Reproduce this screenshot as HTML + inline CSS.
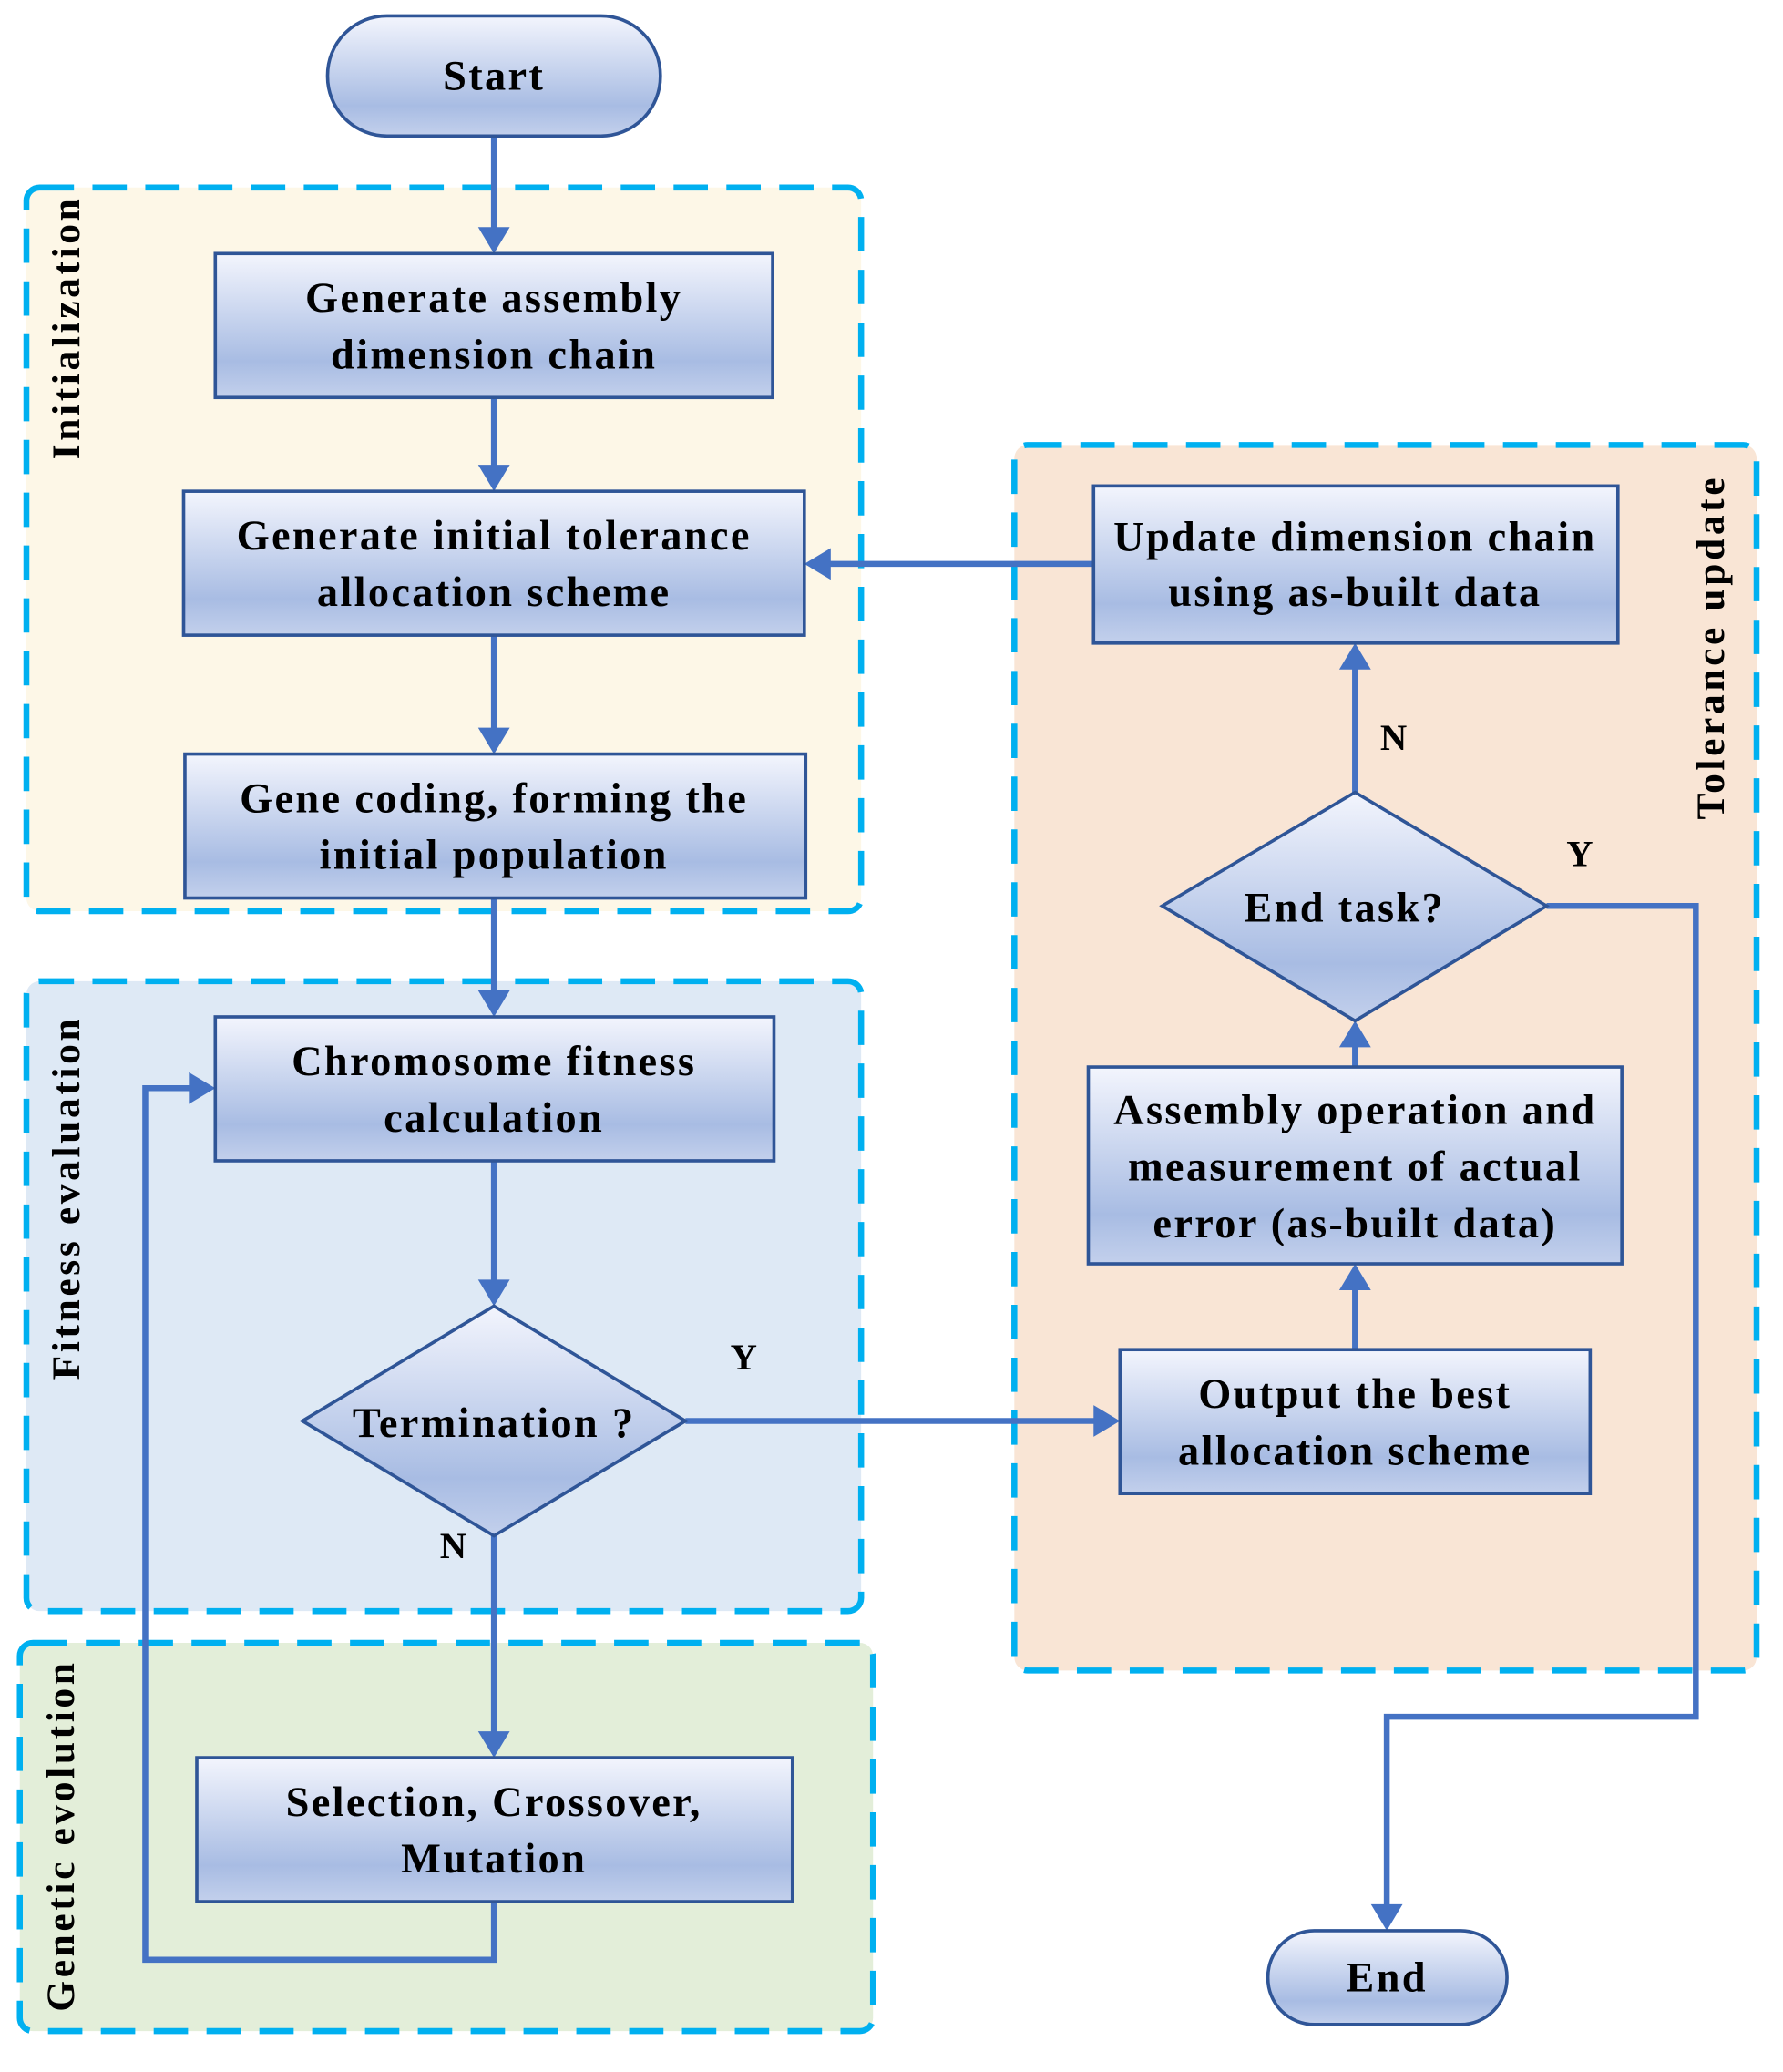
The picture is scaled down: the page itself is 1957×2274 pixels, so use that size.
<!DOCTYPE html>
<html><head><meta charset="utf-8"><style>
html,body{margin:0;padding:0;background:#fff;}
svg{display:block;}
text{font-family:"Liberation Serif",serif;font-weight:bold;fill:#000;}
</style></head><body>
<svg width="1957" height="2274" viewBox="0 0 1350 1569" preserveAspectRatio="none" xmlns="http://www.w3.org/2000/svg">
<defs>
<linearGradient id="g" x1="0" y1="0" x2="0" y2="1">
<stop offset="0" stop-color="#f3f5fd"/>
<stop offset="0.75" stop-color="#a8bce3"/>
<stop offset="1" stop-color="#c3d0ec"/>
</linearGradient>
</defs>
<g stroke="#00b0f0" stroke-width="4.5" stroke-dasharray="26 14">
<rect x="20" y="142" width="632" height="548" rx="10" fill="#fdf7e7"/>
<rect x="20" y="743" width="632" height="477" rx="10" fill="#dee9f5"/>
<rect x="15" y="1244" width="646" height="294" rx="10" fill="#e3eed9"/>
<rect x="768" y="337" width="562" height="928" rx="10" fill="#f9e5d5"/>
</g>
<g font-size="30" text-anchor="middle" letter-spacing="2.5">
<text transform="translate(60,248) rotate(-90)">Initialization</text>
<text transform="translate(60,907) rotate(-90)">Fitness evaluation</text>
<text transform="translate(56,1390) rotate(-90)">Genetic evolution</text>
<text transform="translate(1305,490) rotate(-90)">Tolerance update</text>
</g>

<g stroke="#4472c4" stroke-width="4.5" fill="none">
<path d="M374 103V176"/>
<path d="M374 301V356"/>
<path d="M374 481V555"/>
<path d="M374 680V754"/>
<path d="M374 879V973"/>
<path d="M374 1163V1315"/>
<path d="M374 1440V1484H110V824H147"/>
<path d="M828 427H625"/>
<path d="M519 1076H832"/>
<path d="M1026 1022V973"/>
<path d="M1026 808V789"/>
<path d="M1026 600V503"/>
<path d="M1171 686H1284V1300H1050V1446"/>
</g>
<g fill="#4472c4">
<path d="M362 172h24l-12 20z"/>
<path d="M362 352h24l-12 20z"/>
<path d="M362 551h24l-12 20z"/>
<path d="M362 750h24l-12 20z"/>
<path d="M362 969h24l-12 20z"/>
<path d="M362 1311h24l-12 20z"/>
<path d="M143 812v24l20-12z"/>
<path d="M629 415v24l-20-12z"/>
<path d="M828 1064v24l20-12z"/>
<path d="M1014 977h24l-12-20z"/>
<path d="M1014 793h24l-12-20z"/>
<path d="M1014 507h24l-12-20z"/>
<path d="M1038 1442h24l-12 20z"/>
</g>

<g stroke="#2f5597" stroke-width="2.5" fill="url(#g)">
<rect x="248" y="12" width="252" height="91" rx="45"/>
<rect x="163" y="192" width="422" height="109"/>
<rect x="139" y="372" width="470" height="109"/>
<rect x="140" y="571" width="470" height="109"/>
<rect x="163" y="770" width="423" height="109"/>
<path d="M374 989L519 1076L374 1163L229 1076Z"/>
<rect x="149" y="1331" width="451" height="109"/>
<rect x="828" y="368" width="397" height="119"/>
<path d="M1026 600L1171 686L1026 773L880 686Z"/>
<rect x="824" y="808" width="404" height="149"/>
<rect x="848" y="1022" width="356" height="109"/>
<rect x="960" y="1462" width="181" height="71" rx="35"/>
</g>

<g font-size="32" text-anchor="middle" letter-spacing="1.6">
<text x="374" y="68">Start</text>
<text x="374" y="236">Generate assembly</text>
<text x="374" y="279">dimension chain</text>
<text x="374" y="416">Generate initial tolerance</text>
<text x="374" y="459">allocation scheme</text>
<text x="374" y="615">Gene coding, forming the</text>
<text x="374" y="658">initial population</text>
<text x="374" y="814">Chromosome fitness</text>
<text x="374" y="857">calculation</text>
<text x="374" y="1088">Termination ?</text>
<text x="374" y="1375">Selection, Crossover,</text>
<text x="374" y="1418">Mutation</text>
<text x="1026" y="417">Update dimension chain</text>
<text x="1026" y="459">using as-built data</text>
<text x="1018" y="698">End task?</text>
<text x="1026" y="851">Assembly operation and</text>
<text x="1026" y="894">measurement of actual</text>
<text x="1026" y="937">error (as-built data)</text>
<text x="1026" y="1066">Output the best</text>
<text x="1026" y="1109">allocation scheme</text>
<text x="1050" y="1508">End</text>
</g>
<g font-size="28">
<text x="553" y="1037">Y</text>
<text x="333" y="1180">N</text>
<text x="1045" y="568">N</text>
<text x="1186" y="656">Y</text>
</g>
</svg>
</body></html>
